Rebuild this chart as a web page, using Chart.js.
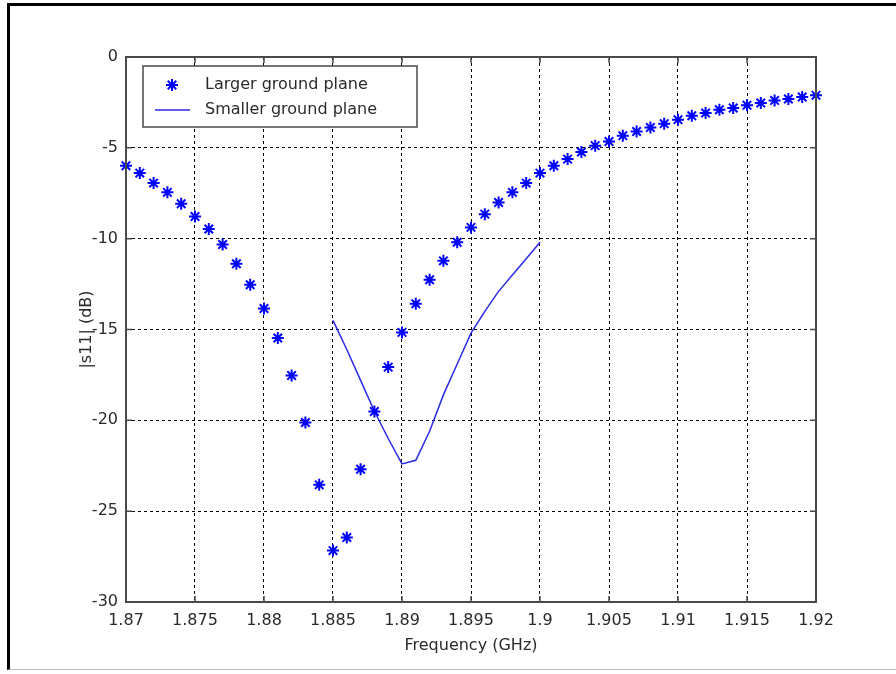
<!DOCTYPE html>
<html lang="en">
<head>
    <meta charset="UTF-8">
    <title>|s11| vs Frequency</title>
    <style>
        html, body {
            margin: 0;
            padding: 0;
            background: #fff;
        }
        body {
            width: 896px;
            height: 674px;
            position: relative;
            overflow: hidden;
        }
        /* window frame around the figure */
        .frame {
            position: absolute;
            left: 7px;
            top: 3px;
            right: 0;
            bottom: 4px;
            border-top: 3px solid #000;
            border-left: 3px solid #000;
            border-bottom: 1px solid #bdbdbd;
        }
        #wrap {
            position: absolute;
            left: 0;
            top: 0;
            width: 896px;
            height: 674px;
        }
    </style>
    <script src="https://cdn.jsdelivr.net/npm/chart.js"></script>
</head>
<body>
    <div class="frame"></div>
    <div id="wrap"><canvas id="s11-chart" width="896" height="674"></canvas></div>

    <script>
        // Larger ground plane, sampled every 1 MHz
        const largerFreq = [
            1.870, 1.871, 1.872, 1.873, 1.874, 1.875, 1.876, 1.877, 1.878, 1.879,
            1.880, 1.881, 1.882, 1.883, 1.884, 1.885, 1.886, 1.887, 1.888, 1.889,
            1.890, 1.891, 1.892, 1.893, 1.894, 1.895, 1.896, 1.897, 1.898, 1.899,
            1.900, 1.901, 1.902, 1.903, 1.904, 1.905, 1.906, 1.907, 1.908, 1.909,
            1.910, 1.911, 1.912, 1.913, 1.914, 1.915, 1.916, 1.917, 1.918, 1.919,
            1.920
        ];
        const largerS11 = [
            -5.99, -6.39, -6.94, -7.45, -8.08, -8.78, -9.47, -10.32, -11.38, -12.54,
            -13.84, -15.47, -17.53, -20.12, -23.55, -27.17, -26.45, -22.69, -19.51, -17.07,
            -15.16, -13.58, -12.26, -11.22, -10.20, -9.38, -8.65, -8.01, -7.45, -6.94,
            -6.39, -5.99, -5.62, -5.23, -4.88, -4.65, -4.33, -4.10, -3.88, -3.67,
            -3.45, -3.23, -3.08, -2.90, -2.81, -2.66, -2.53, -2.39, -2.31, -2.20,
            -2.11
        ];

        // Smaller ground plane
        const smallerFreq = [
            1.885, 1.886, 1.887, 1.888, 1.889, 1.890, 1.891, 1.892,
            1.893, 1.894, 1.895, 1.896, 1.897, 1.898, 1.899, 1.900
        ];
        const smallerS11 = [
            -14.5, -16.1, -17.8, -19.5, -21.0, -22.4, -22.2, -20.6,
            -18.6, -16.9, -15.2, -14.0, -12.9, -12.0, -11.1, -10.2
        ];

        const xTicks = [1.87, 1.875, 1.88, 1.885, 1.89, 1.895, 1.9, 1.905, 1.91, 1.915, 1.92];
        const xTickLabels = ['1.87', '1.875', '1.88', '1.885', '1.89', '1.895', '1.9', '1.905', '1.91', '1.915', '1.92'];
        const yTicks = [0, -5, -10, -15, -20, -25, -30];
        const yTickLabels = ['0', '-5', '-10', '-15', '-20', '-25', '-30'];

        const seriesLabels = ['Larger ground plane', 'Smaller ground plane'];

        const toPoints = (xs, ys) => xs.map((x, i) => ({ x: x, y: ys[i] }));

        Chart.defaults.font.family = '"DejaVu Sans", sans-serif';
        Chart.defaults.font.size = 16;
        Chart.defaults.color = '#2a2a2a';

        // box, inward ticks and legend drawn on top like a MATLAB axes
        const axesBox = {
            id: 'axesBox',
            afterDraw(chart) {
                const ctx = chart.ctx;
                const a = chart.chartArea;
                const xs = chart.scales.x;
                const ys = chart.scales.y;
                ctx.save();

                ctx.strokeStyle = '#4a4a4a';
                ctx.lineWidth = 1.5;
                ctx.beginPath();
                xTicks.forEach(v => {
                    const px = xs.getPixelForValue(v);
                    ctx.moveTo(px, a.top);
                    ctx.lineTo(px, a.top + 6);
                    ctx.moveTo(px, a.bottom);
                    ctx.lineTo(px, a.bottom - 6);
                });
                yTicks.forEach(v => {
                    const py = ys.getPixelForValue(v);
                    ctx.moveTo(a.left, py);
                    ctx.lineTo(a.left + 6, py);
                    ctx.moveTo(a.right, py);
                    ctx.lineTo(a.right - 6, py);
                });
                ctx.stroke();

                ctx.lineWidth = 2;
                ctx.strokeRect(a.left, a.top, a.right - a.left, a.bottom - a.top);

                // legend
                const bx = a.left + 17, by = a.top + 9, bw = 274, bh = 61;
                ctx.fillStyle = '#fff';
                ctx.fillRect(bx, by, bw, bh);
                ctx.lineWidth = 1.5;
                ctx.strokeStyle = '#4a4a4a';
                ctx.strokeRect(bx, by, bw, bh);

                const ds = chart.data.datasets;
                ctx.strokeStyle = ds[0].borderColor;
                ctx.lineWidth = ds[0].pointBorderWidth;
                Chart.helpers.drawPoint(ctx, {
                    pointStyle: 'star', radius: ds[0].pointRadius, borderWidth: ds[0].pointBorderWidth, rotation: 0
                }, bx + 29, by + 19);

                ctx.strokeStyle = ds[1].borderColor;
                ctx.lineWidth = ds[1].borderWidth;
                ctx.beginPath();
                ctx.moveTo(bx + 12, by + 44);
                ctx.lineTo(bx + 47, by + 44);
                ctx.stroke();

                ctx.fillStyle = '#2a2a2a';
                ctx.font = '16px "DejaVu Sans", sans-serif';
                ctx.textBaseline = 'middle';
                ctx.textAlign = 'left';
                ctx.fillText(ds[0].label, bx + 62, by + 19);
                ctx.fillText(ds[1].label, bx + 62, by + 44);

                ctx.restore();
            }
        };

        const ctx = document.getElementById('s11-chart').getContext('2d');
        new Chart(ctx, {
            type: 'scatter',
            data: {
                datasets: [{
                    label: seriesLabels[0],
                    data: toPoints(largerFreq, largerS11),
                    showLine: false,
                    pointStyle: 'star',
                    pointRadius: 6,
                    pointBorderWidth: 2,
                    borderColor: '#0000ff',
                    backgroundColor: '#0000ff',
                    clip: false
                }, {
                    label: seriesLabels[1],
                    data: toPoints(smallerFreq, smallerS11),
                    showLine: true,
                    pointRadius: 0,
                    borderWidth: 1.5,
                    borderColor: '#2a2ae6',
                    backgroundColor: '#2a2ae6',
                    tension: 0,
                    clip: false
                }]
            },
            options: {
                responsive: false,
                animation: false,
                events: [],
                layout: {
                    padding: { left: 77, top: 57, right: 80, bottom: 19 }
                },
                plugins: {
                    legend: { display: false },
                    tooltip: { enabled: false }
                },
                scales: {
                    x: {
                        type: 'linear',
                        min: 1.87,
                        max: 1.92,
                        afterBuildTicks: s => { s.ticks = xTicks.map(v => ({ value: v })); },
                        afterFit: s => { s.height = 53; },
                        ticks: {
                            autoSkip: false,
                            maxRotation: 0,
                            padding: 9,
                            callback: (v, i) => xTickLabels[i]
                        },
                        grid: { color: '#000', lineWidth: 1, drawTicks: false },
                        border: { display: false, dash: [3, 3] },
                        title: {
                            display: true,
                            text: 'Frequency (GHz)',
                            padding: { top: 0, bottom: 0 }
                        }
                    },
                    y: {
                        min: -30,
                        max: 0,
                        afterBuildTicks: s => { s.ticks = yTicks.map(v => ({ value: v })); },
                        afterFit: s => { s.width = 49; },
                        ticks: {
                            autoSkip: false,
                            padding: 8,
                            callback: (v, i) => yTickLabels[i]
                        },
                        grid: { color: '#000', lineWidth: 1, drawTicks: false },
                        border: { display: false, dash: [3, 3] },
                        title: {
                            display: true,
                            text: '|s11| (dB)',
                            padding: { top: 0, bottom: 0 }
                        }
                    }
                }
            },
            plugins: [axesBox]
        });
    </script>
</body>
</html>
